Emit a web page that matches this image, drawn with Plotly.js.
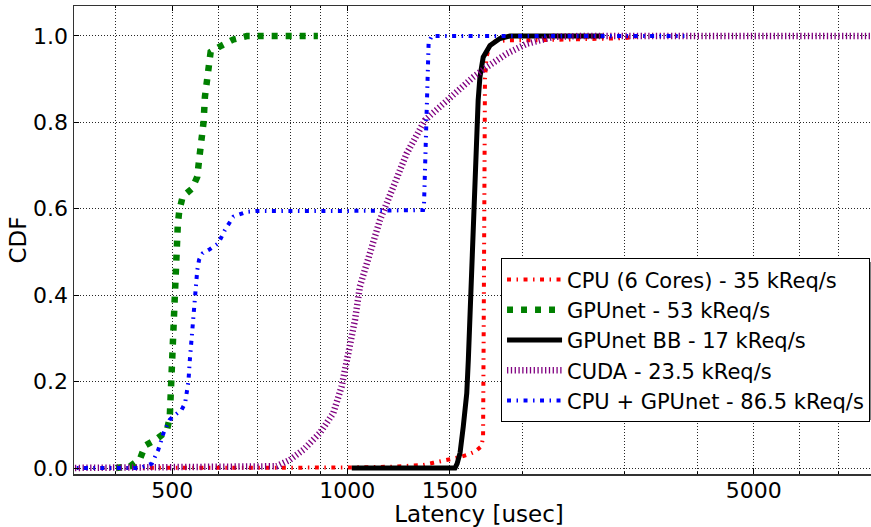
<!DOCTYPE html>
<html>
<head>
<meta charset="utf-8">
<script src="https://cdn.plot.ly/plotly-3.0.1.min.js"></script>
<style>
html,body{margin:0;padding:0;overflow:hidden;background:#fff;}
#chart{width:885px;height:527px;}
</style>
</head>
<body>
<div id="chart"></div>
<script>
// ---- data (latency in usec, CDF) ----
const seriesNames = [
  "CPU (6 Cores) - 35 kReq/s",
  "GPUnet - 53 kReq/s",
  "GPUnet BB - 17 kReq/s",
  "CUDA - 23.5 kReq/s",
  "CPU + GPUnet - 86.5 kReq/s"
];

const cpuX = [330, 800, 1000, 1200, 1350, 1406, 1450, 1502, 1560, 1620, 1658, 1700, 1712, 1716, 1720, 1725, 1735, 1760, 1800, 1900, 2100, 2500, 3000, 3200];
const cpuY = [0, 0, 0.001, 0.003, 0.007, 0.012, 0.016, 0.019, 0.025, 0.032, 0.038, 0.05, 0.07, 0.3, 0.6, 0.9, 0.95, 0.982, 0.988, 0.99, 0.99, 0.993, 0.995, 1.0];

const gpunetX = [400, 423, 440, 449, 470, 489, 495, 498, 500, 501, 505, 508, 511, 514, 521, 541, 552, 556, 563, 566, 569, 573, 578, 582, 608, 637, 672, 890];
const gpunetY = [0, 0.004, 0.021, 0.052, 0.067, 0.085, 0.116, 0.2, 0.273, 0.343, 0.404, 0.497, 0.562, 0.595, 0.628, 0.647, 0.674, 0.713, 0.770, 0.801, 0.859, 0.898, 0.928, 0.963, 0.978, 0.992, 1.0, 1.0];

const bbX = [1018, 1532, 1545, 1563, 1583, 1605, 1615, 1626, 1637, 1647, 1658, 1669, 1679, 1691, 1713, 1760, 1830, 1905, 2750];
const bbY = [0, 0, 0.01, 0.035, 0.096, 0.173, 0.25, 0.36, 0.46, 0.58, 0.72, 0.805, 0.851, 0.905, 0.951, 0.978, 0.994, 1.0, 1.0];

const cudaX = [330, 700, 756, 797, 840, 897, 946, 978, 1004, 1031, 1051, 1094, 1138, 1200, 1265, 1360, 1502, 1647, 1737, 1880, 2035, 2262, 2520, 9000];
const cudaY = [0, 0.001, 0.004, 0.019, 0.042, 0.081, 0.127, 0.189, 0.266, 0.343, 0.42, 0.497, 0.574, 0.651, 0.728, 0.805, 0.859, 0.905, 0.928, 0.959, 0.982, 0.998, 1.0, 1.0];

const hybridX = [330, 440, 461, 473, 483, 495, 508, 519, 526, 533, 536, 540, 543, 547, 552, 556, 564, 578, 600, 616, 637, 672, 699, 1000, 1350, 1355, 1365, 1375, 1380, 1397, 3800];
const hybridY = [0, 0, 0.01, 0.042, 0.081, 0.112, 0.125, 0.135, 0.15, 0.2, 0.25, 0.3, 0.347, 0.405, 0.458, 0.482, 0.497, 0.505, 0.52, 0.551, 0.582, 0.593, 0.595, 0.595, 0.597, 0.61, 0.78, 0.96, 0.985, 1.0, 1.0];

const xMajorTicks = [500, 1000, 1500, 5000];
const xMajorLabels = ["500", "1000", "1500", "5000"];
const xMinorTicks = [400, 600, 700, 800, 900, 2000, 3000, 4000, 6000, 7000, 8000, 9000];
const yTicks = [0, 0.2, 0.4, 0.6, 0.8, 1.0];
const yLabels = ["0.0", "0.2", "0.4", "0.6", "0.8", "1.0"];

const FONT = "DejaVu Sans, Liberation Sans, sans-serif";

const traces = [
  {x: cpuX, y: cpuY, name: seriesNames[0], mode: "lines",
   line: {color: "#ff0000", width: 4, dash: "4px,5.5px,1.5px,5.5px"}},
  {x: gpunetX, y: gpunetY, name: seriesNames[1], mode: "lines",
   line: {color: "#008000", width: 6.5, dash: "6px,8px"}},
  {x: bbX, y: bbY, name: seriesNames[2], mode: "lines",
   line: {color: "#000000", width: 5}},
  {x: cudaX, y: cudaY, name: seriesNames[3], mode: "lines",
   line: {color: "#800080", width: 6.5, dash: "1.3px,2.5px"}},
  {x: hybridX, y: hybridY, name: seriesNames[4], mode: "lines",
   line: {color: "#0000ff", width: 4, dash: "4px,5.5px,1.5px,5.5px"}}
];

// plot area in pixels: x 74..884, y 6..474
const px = v => (v - 74) / 810;
const py = v => (474 - v) / 468;

const layout = {
  width: 885, height: 527,
  margin: {l: 74, r: 1, t: 6, b: 53},
  paper_bgcolor: "#fff", plot_bgcolor: "#fff",
  font: {family: FONT, color: "#000", size: 22},
  showlegend: true,
  legend: {
    x: 0.5272, y: 0.461, xanchor: "left", yanchor: "top",
    bgcolor: "#fff", bordercolor: "#000", borderwidth: 1,
    font: {family: FONT, size: 21, color: "#000"},
    itemwidth: 55
  },
  shapes: [
    {type: "rect", xref: "paper", yref: "paper", layer: "above",
     x0: px(504), x1: px(873), y0: py(420), y1: py(262),
     fillcolor: "#7f7f7f", line: {width: 0}}
  ],
  xaxis: {
    type: "log",
    range: [2.52993, 3.92311],
    tickmode: "array", tickvals: xMajorTicks, ticktext: xMajorLabels,
    ticks: "inside", ticklen: 5, tickcolor: "#000", tickwidth: 1,
    showgrid: true, gridcolor: "rgba(0,0,0,0.85)", griddash: "1px,2px", gridwidth: 1,
    minor: {tickvals: xMinorTicks, ticks: "inside", ticklen: 2, tickcolor: "#000",
            showgrid: true, gridcolor: "rgba(0,0,0,0.85)", griddash: "1px,2px", gridwidth: 1},
    showline: true, linecolor: "#333", linewidth: 1.5, mirror: "ticks",
    zeroline: false,
    tickfont: {family: FONT, size: 22, color: "#000"},
    ticklabelstandoff: -4,
    title: {text: "Latency [usec]", font: {family: FONT, size: 23, color: "#000"}, standoff: 10}
  },
  yaxis: {
    range: [-0.0139, 1.0694],
    tickmode: "array", tickvals: yTicks, ticktext: yLabels,
    ticks: "inside", ticklen: 5, tickcolor: "#000", tickwidth: 1,
    showgrid: true, gridcolor: "rgba(0,0,0,0.85)", griddash: "1px,2px", gridwidth: 1,
    showline: true, linecolor: "#333", linewidth: 1.5, mirror: "ticks",
    zeroline: false,
    tickfont: {family: FONT, size: 22, color: "#000"},
    ticklabelstandoff: 0,
    title: {text: "CDF", font: {family: FONT, size: 23, color: "#000"}, standoff: 0}
  }
};

Plotly.newPlot("chart", traces, layout, {staticPlot: true, displayModeBar: false});
</script>
</body>
</html>
